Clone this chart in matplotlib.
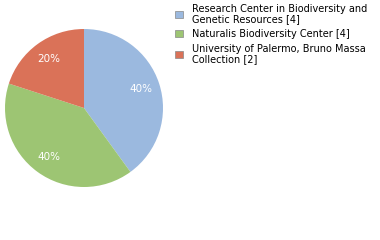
import matplotlib
matplotlib.use("Agg")
import matplotlib.pyplot as plt
from matplotlib.patches import Patch

labels = ["Research Center in Biodiversity and\nGenetic Resources [4]",
          "Naturalis Biodiversity Center [4]",
          "University of Palermo, Bruno Massa\nCollection [2]"]
values = [4, 4, 2]
colors = ["#9BB9DF", "#9DC573", "#DA7258"]

fig = plt.figure(figsize=(3.8, 2.4), dpi=100)
ax = fig.add_axes([5/380, (240-187)/240, 158/380, 158/240])
wedges, texts, autotexts = ax.pie(values, colors=colors, startangle=90, counterclock=False,
                                  autopct="%d%%", pctdistance=0.76,
                                  textprops=dict(color="white", fontsize=7.5))
ax.set_xlim(-1.0, 1.0)
ax.set_ylim(-1.0, 1.0)
ax.set_aspect("equal")

handles = [Patch(facecolor=c, edgecolor="#888888", linewidth=0.5) for c in colors]
leg = fig.legend(handles, labels, loc="upper left", bbox_to_anchor=(174/380, 1 - 3/240), frameon=False,
                 fontsize=7, handlelength=0.8, handleheight=0.8, handletextpad=0.9,
                 labelspacing=0.5, borderaxespad=0, borderpad=0.1)
for t in leg.get_texts():
    t.set_linespacing(1.0)
fig.savefig("out.png", dpi=100)
